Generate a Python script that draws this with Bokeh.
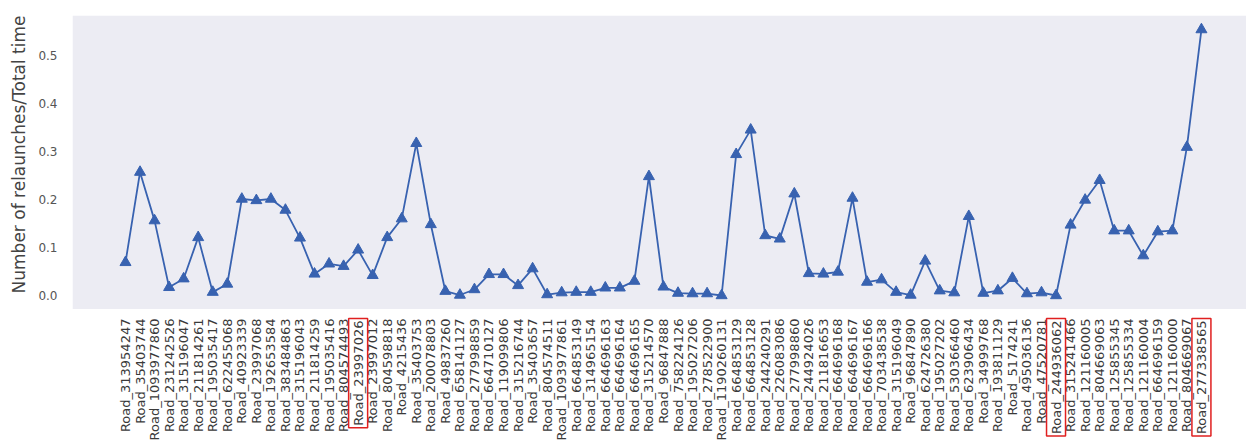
from bokeh.plotting import figure
from bokeh.models import Range1d, FixedTicker, Label, BoxAnnotation, Title, ColumnDataSource
from bokeh.embed import file_html
from bokeh.resources import INLINE
from bokeh.core.properties import value
import math

roads = [
    "Road_313954247", "Road_35403744", "Road_1093977860", "Road_231242526", "Road_315196047",
    "Road_211814261", "Road_195035417", "Road_622455068", "Road_40923339", "Road_23997068",
    "Road_192653584", "Road_383484863", "Road_315196043", "Road_211814259", "Road_195035416",
    "Road_804574493", "Road_23997026", "Road_23997012", "Road_804598818", "Road_4215436",
    "Road_35403753", "Road_200078803", "Road_49837260", "Road_658141127", "Road_277998859",
    "Road_664710127", "Road_119099806", "Road_315216744", "Road_35403657", "Road_804574511",
    "Road_1093977861", "Road_664853149", "Road_314965154", "Road_664696163", "Road_664696164",
    "Road_664696165", "Road_315214570", "Road_96847888", "Road_758224126", "Road_195027206",
    "Road_278522900", "Road_1190260131", "Road_664853129", "Road_664853128", "Road_244240291",
    "Road_226083086", "Road_277998860", "Road_244924026", "Road_211816653", "Road_664696168",
    "Road_664696167", "Road_664696166", "Road_703438538", "Road_315196049", "Road_96847890",
    "Road_624726380", "Road_195027202", "Road_530366460", "Road_623906434", "Road_34999768",
    "Road_193811129", "Road_5174241", "Road_495036136", "Road_47520781", "Road_244936062",
    "Road_315241466", "Road_121160005", "Road_804669063", "Road_125855345", "Road_125855334",
    "Road_121160004", "Road_664696159", "Road_121160000", "Road_804669067", "Road_277338565",
]

ratio = [
    0.069, 0.257, 0.156, 0.017, 0.035, 0.121, 0.007, 0.024, 0.201, 0.198,
    0.201, 0.178, 0.120, 0.045, 0.066, 0.061, 0.095, 0.042, 0.121, 0.160,
    0.317, 0.148, 0.009, 0.001, 0.0125, 0.044, 0.044, 0.021, 0.056, 0.002,
    0.006, 0.007, 0.007, 0.016, 0.016, 0.030, 0.248, 0.018, 0.005, 0.004,
    0.004, 0.0, 0.294, 0.345, 0.125, 0.118, 0.212, 0.046, 0.045, 0.049,
    0.203, 0.028, 0.033, 0.007, 0.001, 0.072, 0.010, 0.006, 0.165, 0.005,
    0.010, 0.036, 0.004, 0.006, 0.0, 0.147, 0.199, 0.240, 0.135, 0.135,
    0.083, 0.133, 0.135, 0.309, 0.554,
]

highlighted = ["Road_23997026", "Road_244936062", "Road_277338565"]

y_ticks = [0.0, 0.1, 0.2, 0.3, 0.4, 0.5]
y_title = "Number of relaunches/Total time"

LINE = "#3862b0"
FONT = "DejaVu Sans"
BG = "#ececf3"
PLOT_BOTTOM = -0.028   # lower limit of the shaded data area
LABEL_Y = -0.048       # where the rotated road labels end

idx = list(range(len(roads)))

p = figure(width=1246, height=443, output_backend="svg", toolbar_location=None,
           x_axis_location=None,
           x_range=Range1d(-3.645, 77.1), y_range=Range1d(-0.3083, 0.5833),
           min_border_left=72, min_border_right=0, min_border_top=15, min_border_bottom=0)

p.background_fill_color = "white"
p.border_fill_color = "white"
p.outline_line_color = None
p.grid.grid_line_color = None

p.add_layout(BoxAnnotation(bottom=PLOT_BOTTOM, fill_color=BG, fill_alpha=1.0,
                           line_color=None, level="underlay"))

p.line(idx, ratio, line_color=LINE, line_width=1.8)
p.scatter(idx, ratio, marker="triangle", size=11, fill_color=LINE, line_color=LINE)

# road labels under the shaded area
plain = ColumnDataSource(dict(
    x=[i for i, r in enumerate(roads) if r not in highlighted],
    y=[LABEL_Y for r in roads if r not in highlighted],
    t=[r for r in roads if r not in highlighted],
))
p.text(x="x", y="y", text="t", source=plain, angle=math.pi / 2,
       text_align="right", text_baseline="middle",
       text_font=value(FONT), text_font_size="13px", text_color="#3a3a3a")

for i, r in enumerate(roads):
    if r in highlighted:
        p.add_layout(Label(x=i, y=LABEL_Y, text=r, angle=math.pi / 2,
                           text_align="right", text_baseline="middle",
                           text_font=FONT, text_font_size="13px",
                           text_color="#3a3a3a", border_line_color="#e02020",
                           border_line_width=1.5, padding=2))

ya = p.yaxis[0]
ya.ticker = FixedTicker(ticks=y_ticks)
ya.major_label_overrides = {t: f"{t:.1f}" for t in y_ticks}
ya.major_label_text_font = FONT
ya.major_label_text_font_size = "12px"
ya.major_label_text_color = "#555555"
ya.major_label_standoff = 15
ya.major_tick_out = 0
ya.major_tick_in = 0
ya.minor_tick_out = 0
ya.minor_tick_in = 0
ya.axis_line_color = None
ya.major_tick_line_color = None
ya.minor_tick_line_color = None

p.add_layout(Title(text=y_title, align="right", vertical_align="top",
                   text_font=FONT, text_font_size="17px",
                   text_font_style="normal", text_color="#444444", standoff=10), "left")

open("out.html", "w").write(file_html(p, INLINE))
